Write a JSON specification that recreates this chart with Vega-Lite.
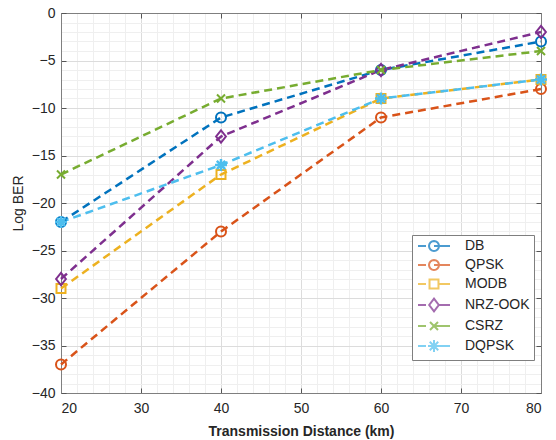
{
  "$schema": "https://vega.github.io/schema/vega-lite/v6.json",
  "width": 480,
  "height": 380,
  "autosize": {"type": "none"},
  "padding": {"left": 61, "top": 13, "right": 15, "bottom": 47},
  "background": "white",
  "config": {
    "font": "Liberation Sans",
    "view": {"stroke": "#7f7f7f", "strokeWidth": 1},
    "axis": {
      "labelFont": "Liberation Sans",
      "labelFontSize": 14,
      "labelColor": "#262626",
      "titleFont": "Liberation Sans",
      "titleColor": "#262626",
      "titleFontSize": 14,
      "domainColor": "#7f7f7f",
      "tickColor": "#555555",
      "gridWidth": 1
    },
    "legend": {
      "labelFont": "Liberation Sans",
      "labelFontSize": 14,
      "labelColor": "#262626",
      "strokeColor": "#7f7f7f",
      "fillColor": "white",
      "padding": 4,
      "rowPadding": 1,
      "symbolSize": 144,
      "symbolStrokeWidth": 2,
      "symbolOffset": 11,
      "labelOffset": 24
    }
  },
  "data": {
    "values": [
      {"x": 20, "ber": -22, "series": "DB"},
      {"x": 40, "ber": -11, "series": "DB"},
      {"x": 60, "ber": -6, "series": "DB"},
      {"x": 80, "ber": -3, "series": "DB"},
      {"x": 20, "ber": -37, "series": "QPSK"},
      {"x": 40, "ber": -23, "series": "QPSK"},
      {"x": 60, "ber": -11, "series": "QPSK"},
      {"x": 80, "ber": -8, "series": "QPSK"},
      {"x": 20, "ber": -29, "series": "MODB"},
      {"x": 40, "ber": -17, "series": "MODB"},
      {"x": 60, "ber": -9, "series": "MODB"},
      {"x": 80, "ber": -7, "series": "MODB"},
      {"x": 20, "ber": -28, "series": "NRZ-OOK"},
      {"x": 40, "ber": -13, "series": "NRZ-OOK"},
      {"x": 60, "ber": -6, "series": "NRZ-OOK"},
      {"x": 80, "ber": -2, "series": "NRZ-OOK"},
      {"x": 20, "ber": -17, "series": "CSRZ"},
      {"x": 40, "ber": -9, "series": "CSRZ"},
      {"x": 60, "ber": -6, "series": "CSRZ"},
      {"x": 80, "ber": -4, "series": "CSRZ"},
      {"x": 20, "ber": -22, "series": "DQPSK"},
      {"x": 40, "ber": -16, "series": "DQPSK"},
      {"x": 60, "ber": -9, "series": "DQPSK"},
      {"x": 80, "ber": -7, "series": "DQPSK"}
    ]
  },
  "layer": [
    {
      "transform": [{"filter": {"field": "x", "lt": 0}}],
      "mark": {"type": "point", "strokeWidth": 2, "filled": false},
      "encoding": {
        "x": {"field": "x", "type": "quantitative", "scale": {"domain": [20, 80], "nice": false}, "axis": null},
        "y": {"field": "ber", "type": "quantitative", "scale": {"domain": [-40, 0], "nice": false}, "axis": null},
        "color": {"field": "series", "type": "nominal",
          "scale": {"domain": ["DB", "QPSK", "MODB", "NRZ-OOK", "CSRZ", "DQPSK"], "range": ["#0072BD", "#D95319", "#EDB120", "#7E2F8E", "#77AC30", "#4DBEEE"]},
          "legend": {"title": null, "orient": "none", "legendX": 351, "legendY": 222, "symbolSize": 144}},
        "shape": {"field": "series", "type": "nominal",
          "scale": {"domain": ["DB", "QPSK", "MODB", "NRZ-OOK", "CSRZ", "DQPSK"],
            "range": [
              "M-2.667,0H-1.333M0,0H2.667M0.833,0L0.77,0.319L0.589,0.589L0.319,0.77L0,0.833L-0.319,0.77L-0.589,0.589L-0.77,0.319L-0.833,0L-0.77,-0.319L-0.589,-0.589L-0.319,-0.77L0,-0.833L0.319,-0.77L0.589,-0.589L0.77,-0.319Z",
              "M-2.667,0H-1.333M0,0H2.667M0.833,0L0.77,0.319L0.589,0.589L0.319,0.77L0,0.833L-0.319,0.77L-0.589,0.589L-0.77,0.319L-0.833,0L-0.77,-0.319L-0.589,-0.589L-0.319,-0.77L0,-0.833L0.319,-0.77L0.589,-0.589L0.77,-0.319Z",
              "M-2.667,0H-1.333M0.747,0H2.667M-0.747,-0.747H0.747V0.747H-0.747Z",
              "M-2.667,0H-1.333M0.8,0H2.667M0,-1.067L0.8,0L0,1.067L-0.8,0Z",
              "M-2.667,0H-1.333M0,0H2.667M-0.667,-0.667L0.667,0.667M-0.667,0.667L0.667,-0.667",
              "M-2.667,0H-1.333M0,0H2.667M0,-1V1M-1,0H1M-0.707,-0.707L0.707,0.707M-0.707,0.707L0.707,-0.707"
            ]},
          "legend": {"title": null, "orient": "none", "legendX": 351, "legendY": 222, "symbolSize": 144}}
      }
    },
    {
      "mark": {"type": "line", "strokeWidth": 2.5, "strokeDash": [8, 5]},
      "encoding": {
        "x": {"field": "x", "type": "quantitative",
          "axis": {"orient": "bottom", "values": [22,24,26,28,32,34,36,38,42,44,46,48,52,54,56,58,62,64,66,68,72,74,76,78], "grid": true, "gridColor": "#efefef", "labels": false, "ticks": false, "domain": false, "title": null}},
        "y": {"field": "ber", "type": "quantitative",
          "axis": {"orient": "left", "values": [-39,-38,-37,-36,-34,-33,-32,-31,-29,-28,-27,-26,-24,-23,-22,-21,-19,-18,-17,-16,-14,-13,-12,-11,-9,-8,-7,-6,-4,-3,-2,-1], "grid": true, "gridColor": "#efefef", "labels": false, "ticks": false, "domain": false, "title": null}},
        "color": {"field": "series", "type": "nominal"}
      }
    },
    {
      "transform": [{"filter": {"field": "series", "equal": "DB"}}],
      "mark": {"type": "point", "shape": "circle", "size": 100, "strokeWidth": 2, "filled": false, "opacity": 1},
      "encoding": {
        "x": {"field": "x", "type": "quantitative",
          "axis": {"orient": "bottom", "values": [20,30,40,50,60,70,80], "grid": true, "gridColor": "#dcdcdc", "tickSize": -5, "labelPadding": 13, "title": "Transmission Distance (km)", "titleFontWeight": "bold", "titlePadding": 9}},
        "y": {"field": "ber", "type": "quantitative",
          "axis": {"orient": "left", "values": [-40,-35,-30,-25,-20,-15,-10,-5,0], "grid": true, "gridColor": "#dcdcdc", "tickSize": -5, "labelPadding": 11, "title": "Log BER", "titleFontWeight": "normal", "titlePadding": 6}},
        "color": {"field": "series", "type": "nominal"}
      }
    },
    {
      "transform": [{"filter": {"field": "series", "equal": "QPSK"}}],
      "mark": {"type": "point", "shape": "circle", "size": 100, "strokeWidth": 2, "filled": false, "opacity": 1},
      "encoding": {
        "x": {"field": "x", "type": "quantitative",
          "axis": {"orient": "top", "values": [20,30,40,50,60,70,80], "grid": false, "tickSize": -5, "labels": false, "title": null}},
        "y": {"field": "ber", "type": "quantitative",
          "axis": {"orient": "right", "values": [-40,-35,-30,-25,-20,-15,-10,-5,0], "grid": false, "tickSize": -5, "labels": false, "title": null}},
        "color": {"field": "series", "type": "nominal"}
      }
    },
    {
      "transform": [{"filter": {"field": "series", "equal": "MODB"}}],
      "mark": {"type": "point", "shape": "square", "size": 81, "strokeWidth": 2, "filled": false, "opacity": 1},
      "encoding": {
        "x": {"field": "x", "type": "quantitative", "axis": null},
        "y": {"field": "ber", "type": "quantitative", "axis": null},
        "color": {"field": "series", "type": "nominal"}
      }
    },
    {
      "transform": [{"filter": {"field": "series", "equal": "NRZ-OOK"}}],
      "mark": {"type": "point", "shape": "M0,-1L0.8,0L0,1L-0.8,0Z", "size": 150, "strokeWidth": 2, "filled": false, "opacity": 1},
      "encoding": {
        "x": {"field": "x", "type": "quantitative", "axis": null},
        "y": {"field": "ber", "type": "quantitative", "axis": null},
        "color": {"field": "series", "type": "nominal"}
      }
    },
    {
      "transform": [{"filter": {"field": "series", "equal": "CSRZ"}}],
      "mark": {"type": "point", "shape": "M-1,-1L1,1M-1,1L1,-1", "size": 64, "strokeWidth": 2, "filled": false, "opacity": 1},
      "encoding": {
        "x": {"field": "x", "type": "quantitative", "axis": null},
        "y": {"field": "ber", "type": "quantitative", "axis": null},
        "color": {"field": "series", "type": "nominal"}
      }
    },
    {
      "transform": [{"filter": {"field": "series", "equal": "DQPSK"}}],
      "mark": {"type": "point", "shape": "M0,-1V1M-1,0H1M-0.7,-0.7L0.7,0.7M-0.7,0.7L0.7,-0.7", "size": 144, "strokeWidth": 2.5, "filled": false, "opacity": 1},
      "encoding": {
        "x": {"field": "x", "type": "quantitative", "axis": null},
        "y": {"field": "ber", "type": "quantitative", "axis": null},
        "color": {"field": "series", "type": "nominal"}
      }
    }
  ],
  "resolve": {"axis": {"x": "independent", "y": "independent"}}
}
